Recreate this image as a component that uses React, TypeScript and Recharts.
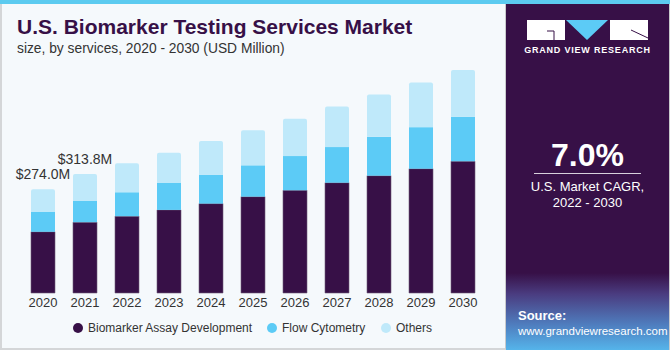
import React from 'react';
import { BarChart, Bar, XAxis, YAxis, LabelList } from 'recharts';

// values, USD million
const years = ['2020', '2021', '2022', '2023', '2024', '2025', '2026', '2027', '2028', '2029', '2030'];
const assayDevelopment = [161.5, 186.8, 202.6, 219.2, 235.8, 254.2, 271.0, 291.0, 309.5, 327.9, 347.4];
const flowCytometry = [52.5, 56.0, 63.2, 71.0, 76.3, 82.6, 90.3, 94.0, 102.6, 109.7, 117.4];
const others = [60.0, 71.0, 76.3, 79.7, 88.7, 92.9, 98.2, 107.1, 111.6, 117.6, 123.7];
const totalLabels = ['$274.0M', '$313.8M'];

const DARK = '#371047';
const BLUE = '#5ccbf6';
const LIGHT = '#bfe9fa';
const FONT = 'Arial, "Liberation Sans", sans-serif';

const data = years.map((year, i) => ({
    year,
    assay: assayDevelopment[i],
    flow: flowCytometry[i],
    others: others[i],
}));

const legendItems = [
    { name: 'Biomarker Assay Development', color: DARK, left: 73 },
    { name: 'Flow Cytometry', color: BLUE, left: 267 },
    { name: 'Others', color: LIGHT, left: 381 },
];

const TotalLabel = (props: any) => {
    const { x, y, width, index } = props;
    if (index >= totalLabels.length) return null;
    return (
        <text x={x + width / 2} y={y - 10} textAnchor="middle" fontSize={14} fill="#333" fontFamily={FONT}>
            {totalLabels[index]}
        </text>
    );
};

const Logo = () => (
    <svg width={122} height={20} style={{ position: 'absolute', left: 527, top: 20 }}>
        <rect x={0} y={0} width={38} height={20} fill="#fff" />
        <polyline points="20,11 27,11 27,20" stroke={DARK} strokeWidth={1} fill="none" />
        <polygon points="39,0 81,0 60,20" fill={BLUE} />
        <rect x={83} y={0} width={38} height={20} fill="#fff" />
        <line x1={104} y1={10} x2={121} y2={18} stroke={DARK} strokeWidth={1} />
    </svg>
);

export default function App() {
    return (
        <div style={{ position: 'fixed', left: 0, top: 0, width: 670, height: 350, background: '#f5f9fc', overflow: 'hidden', fontFamily: FONT }}>
            {/* left panel border */}
            <div style={{ position: 'absolute', left: 0, top: 0, width: 503, height: 348, borderLeft: '2px solid #d4d6d8', borderBottom: '2px solid #d4d6d8', borderRight: '1px solid #c8cacc' }} />
            <div style={{ position: 'absolute', left: 17, top: 15, fontSize: 21, fontWeight: 900, color: DARK }}>
                U.S. Biomarker Testing Services Market
            </div>
            <div style={{ position: 'absolute', left: 17, top: 41, fontSize: 13.8, color: '#333' }}>
                size, by services, 2020 - 2030 (USD Million)
            </div>

            <div style={{ position: 'absolute', left: 0, top: 0 }}>
                <BarChart width={506} height={350} data={data} margin={{ top: 58, right: 22, bottom: 37, left: 22 }} barSize={24}>
                    <YAxis hide domain={[0, 620]} />
                    <XAxis
                        dataKey="year"
                        height={20}
                        axisLine={false}
                        tickLine={false}
                        tickSize={0}
                        tickMargin={5}
                        interval={0}
                        tick={{ fontSize: 13, fill: '#333', fontFamily: FONT }}
                    />
                    <Bar dataKey="assay" stackId="a" fill={DARK} stroke="#6e5a7a" strokeWidth={0.6} isAnimationActive={false} />
                    <Bar dataKey="flow" stackId="a" fill={BLUE} isAnimationActive={false} />
                    <Bar dataKey="others" stackId="a" fill={LIGHT} radius={[2, 2, 0, 0]} isAnimationActive={false}>
                        <LabelList dataKey="others" content={<TotalLabel />} />
                    </Bar>
                </BarChart>
            </div>

            {/* legend */}
            {legendItems.map((item) => (
                <div key={item.name} style={{ position: 'absolute', left: item.left, top: 320, height: 16, display: 'flex', alignItems: 'center', fontSize: 12, color: '#333' }}>
                    <span style={{ width: 10, height: 10, borderRadius: 5, background: item.color, marginRight: 5 }} />
                    <span>{item.name}</span>
                </div>
            ))}

            {/* right panel */}
            <div style={{ position: 'absolute', left: 506, top: 0, width: 163, height: 350, background: 'linear-gradient(to bottom, #371047 0%, #371047 78%, #4a3c80 84%, #4f7fc0 93%, #55b4ea 100%)', borderRight: '1px solid #c8cacc' }} />
            <Logo />
            <div style={{ position: 'absolute', left: 506, top: 45, width: 163, textAlign: 'center', color: '#fff', fontSize: 9, fontWeight: 700, letterSpacing: 0.8 }}>
                GRAND VIEW RESEARCH
            </div>
            <div style={{ position: 'absolute', left: 506, top: 137, width: 163, textAlign: 'center', color: '#fff', fontSize: 32, fontWeight: 700 }}>
                7.0%
            </div>
            <div style={{ position: 'absolute', left: 534, top: 173, width: 107, height: 1, background: '#d8d0dc' }} />
            <div style={{ position: 'absolute', left: 506, top: 179, width: 163, textAlign: 'center', color: '#fff', fontSize: 13, lineHeight: '16px' }}>
                U.S. Market CAGR,<br />2022 - 2030
            </div>
            <div style={{ position: 'absolute', left: 518, top: 308, color: '#fff', fontSize: 11.5, lineHeight: '15px' }}>
                <b style={{ fontSize: 13 }}>Source:</b><br />www.grandviewresearch.com
            </div>
            {/* top strip */}
            <div style={{ position: 'absolute', left: 0, top: 0, width: 670, height: 4, background: '#5ccbf0' }} />
        </div>
    );
}
